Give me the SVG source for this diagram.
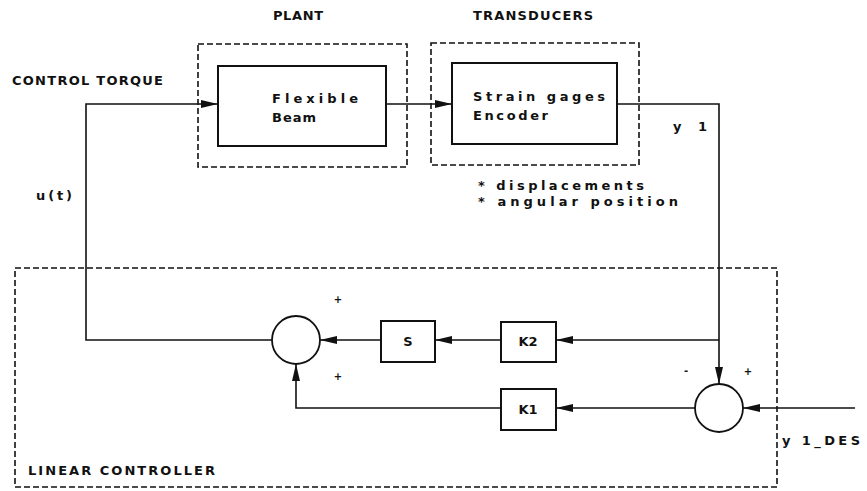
<svg xmlns="http://www.w3.org/2000/svg" width="867" height="491" viewBox="0 0 867 491">
<style>
.bg{fill:#fff}
.blk{fill:#fff;stroke:#111;stroke-width:2}
.grp{fill:none;stroke:#111;stroke-width:1.6;stroke-dasharray:6,3}
.sum{fill:#fff;stroke:#111;stroke-width:1.8}
.wire{fill:none;stroke:#111;stroke-width:1.6}
text{font-family:"DejaVu Sans","Liberation Sans",sans-serif;font-size:13px;font-weight:bold;fill:#111}
.sg{font-size:10px;text-anchor:middle}
.c{text-anchor:middle}
</style>
<defs>
<marker id="ah" markerUnits="userSpaceOnUse" markerWidth="17" markerHeight="10" refX="17" refY="5" orient="auto">
<path d="M0,1 L17,5 L0,9 z" fill="#111"/>
</marker>
</defs>
<rect class="bg" x="0" y="0" width="867" height="491"/>

<g id="plant">
<rect class="grp" x="198" y="44" width="209" height="123"/>
<text x="273" y="20" textLength="50" lengthAdjust="spacing">PLANT</text>
</g>
<g id="beam">
<rect class="blk" x="218" y="66" width="168" height="80"/>
<text x="272" y="103" textLength="86" lengthAdjust="spacing">Flexible</text>
<text x="272" y="122" textLength="44" lengthAdjust="spacing">Beam</text>
</g>

<g id="transducers">
<rect class="grp" x="431" y="43" width="208" height="122"/>
<text x="473" y="20" textLength="120" lengthAdjust="spacing">TRANSDUCERS</text>
<text x="478" y="190" textLength="166" lengthAdjust="spacing">* displacements</text>
<text x="478" y="206" textLength="200" lengthAdjust="spacing">* angular position</text>
</g>
<g id="sensors">
<rect class="blk" x="452" y="63" width="165" height="81"/>
<text x="473" y="101" textLength="132" lengthAdjust="spacing">Strain gages</text>
<text x="473" y="120" textLength="75" lengthAdjust="spacing">Encoder</text>
</g>

<g id="controller">
<rect class="grp" x="15" y="268" width="762" height="219"/>
<text x="28" y="475" textLength="187" lengthAdjust="spacing">LINEAR CONTROLLER</text>
</g>

<g id="sum1">
<circle class="sum" cx="296" cy="340" r="24"/>
<text class="sg" x="338" y="303">+</text>
<text class="sg" x="338" y="380">+</text>
</g>
<g id="S">
<rect class="blk" x="381" y="321" width="54" height="41"/>
<text class="c" x="408" y="346">S</text>
</g>
<g id="K2">
<rect class="blk" x="501" y="322" width="55" height="40"/>
<text class="c" x="528" y="346">K2</text>
</g>
<g id="K1">
<rect class="blk" x="501" y="389" width="55" height="41"/>
<text class="c" x="528" y="414">K1</text>
</g>
<g id="sum2">
<circle class="sum" cx="719" cy="408" r="24"/>
<text class="sg" x="686" y="374">-</text>
<text class="sg" x="748" y="375">+</text>
</g>

<g id="labels">
<text x="12" y="85" textLength="151" lengthAdjust="spacing">CONTROL TORQUE</text>
<text x="36" y="200" textLength="36" lengthAdjust="spacing">u(t)</text>
<text x="673" y="131" textLength="34" lengthAdjust="spacing">y 1</text>
<text x="782" y="445" textLength="78" lengthAdjust="spacing">y 1_DES</text>
</g>

<g id="connectors">
<path class="wire" d="M272,340 H86 V104 H218" marker-end="url(#ah)"/>
<path class="wire" d="M386,104 H452" marker-end="url(#ah)"/>
<path class="wire" d="M617,104 H719 V384" marker-end="url(#ah)"/>
<path class="wire" d="M719,340 H556" marker-end="url(#ah)"/>
<path class="wire" d="M501,340 H435" marker-end="url(#ah)"/>
<path class="wire" d="M381,340 H320" marker-end="url(#ah)"/>
<path class="wire" d="M855,408 H743" marker-end="url(#ah)"/>
<path class="wire" d="M695,408 H556" marker-end="url(#ah)"/>
<path class="wire" d="M501,408 H296 V364" marker-end="url(#ah)"/>
</g>
</svg>
